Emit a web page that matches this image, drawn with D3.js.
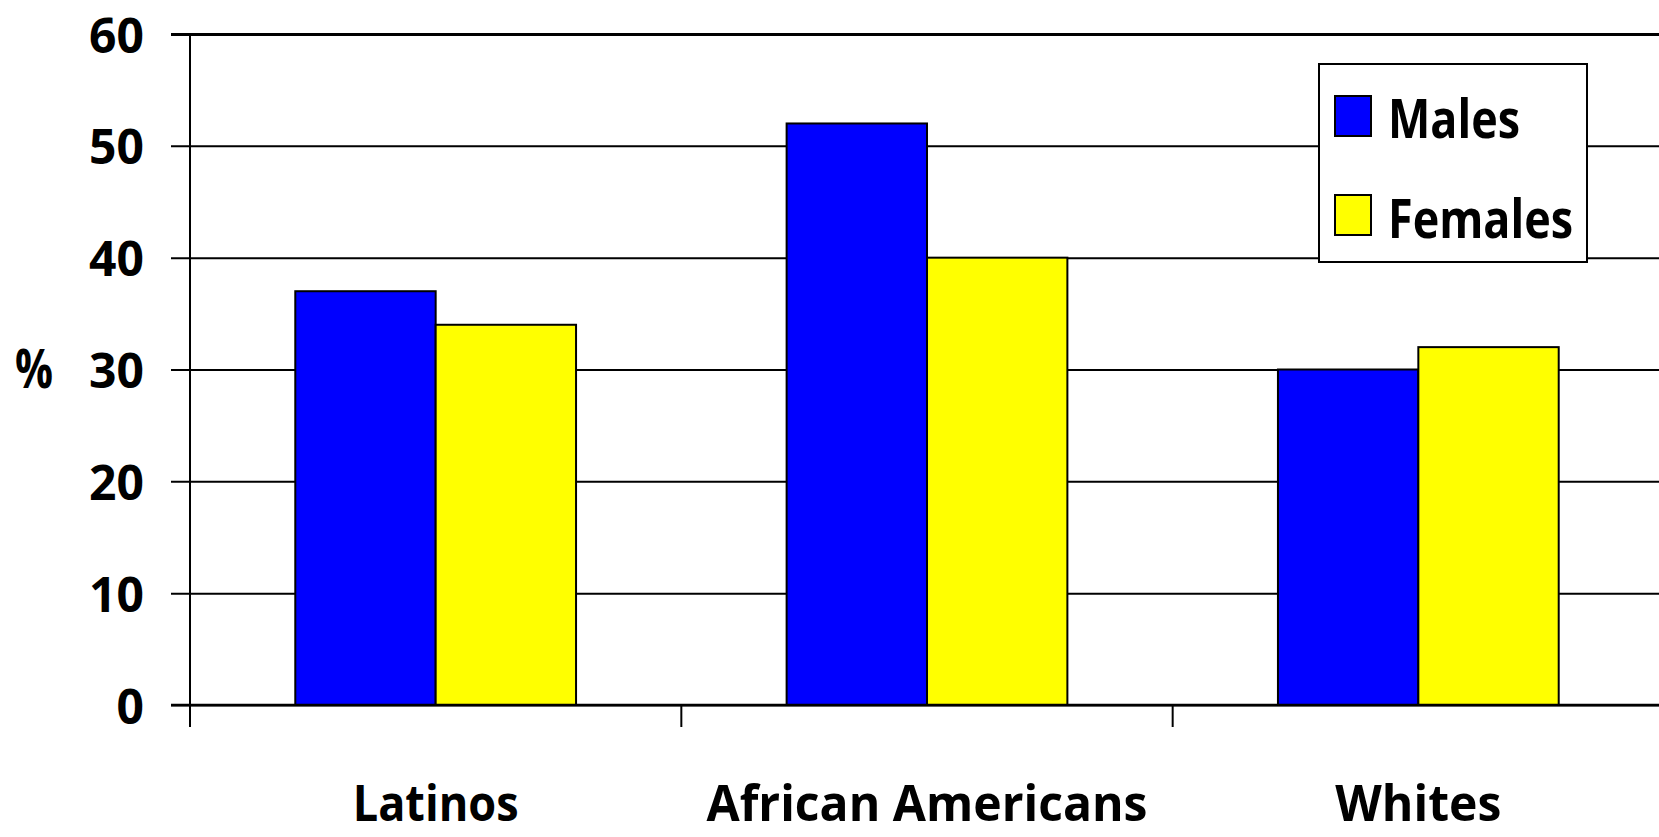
<!DOCTYPE html>
<html><head><meta charset="utf-8">
<script src="https://cdn.jsdelivr.net/npm/d3@7"></script>
<style>
html,body{margin:0;padding:0;background:#fff;}
text{font-family:"Comic Sans MS","Open Sans","DejaVu Sans",sans-serif;font-weight:bold;fill:#000;}
</style></head>
<body>
<svg id="chart" width="1659" height="837"></svg>
<script>
const categories = ["Latinos", "African Americans", "Whites"];
const seriesNames = ["Males", "Females"];
const males = [37, 52, 30];
const females = [34, 40, 32];
const yTicks = [0, 10, 20, 30, 40, 50, 60];
const seriesColors = ["#0000ff", "#ffff00"];
const yLabel = "%";

(function () {
const FONT = '"Comic Sans MS","Open Sans","DejaVu Sans",sans-serif';
const svg = d3.select("#chart");
const pLeft = 190, pRight = 1664, pTop = 34, pBottom = 705;
const data = categories.map((c, i) => ({cat: c, values: [males[i], females[i]]}));

const x0 = d3.scaleBand().domain(categories).range([pLeft, pRight]).paddingInner(0).paddingOuter(0);
const x1 = d3.scaleBand().domain(seriesNames).range([0, x0.bandwidth()]).paddingInner(0).paddingOuter(0.75);
const y = d3.scaleLinear().domain([0, 60]).range([pBottom, pTop]);

// gridlines + y tick labels
const yAxis = d3.axisLeft(y).tickValues(yTicks).tickSizeInner(-(1700 - 171)).tickSizeOuter(0).tickPadding(27);
const gy = svg.append("g").attr("transform", "translate(171,0)").call(yAxis);
gy.select(".domain").remove();
gy.selectAll(".tick line").attr("stroke", "#000").attr("stroke-width", d => d === 60 ? 3 : 2);
gy.selectAll(".tick text").attr("font-size", 48).attr("dy", 18).attr("fill", "#000")
  .style("font-family", FONT).style("font-weight", "bold");

// bars
const groups = svg.append("g").selectAll("g").data(data).join("g")
  .attr("transform", d => `translate(${x0(d.cat)},0)`);
groups.selectAll("rect").data(d => d.values.map((v, j) => ({s: seriesNames[j], v, j}))).join("rect")
  .attr("x", d => x1(d.s)).attr("width", x1.bandwidth())
  .attr("y", d => y(d.v)).attr("height", d => y(0) - y(d.v))
  .attr("fill", d => seriesColors[d.j]).attr("stroke", "#000").attr("stroke-width", 2);

// y axis line
svg.append("line").attr("x1", pLeft).attr("x2", pLeft).attr("y1", y(60)).attr("y2", pBottom + 22)
  .attr("stroke", "#000").attr("stroke-width", 2);
// baseline
svg.append("line").attr("x1", 171).attr("x2", 1700).attr("y1", y(0)).attr("y2", y(0))
  .attr("stroke", "#000").attr("stroke-width", 2.5);

// category boundary ticks
svg.append("g").selectAll("line").data(categories.slice(1)).join("line")
  .attr("x1", d => x0(d)).attr("x2", d => x0(d)).attr("y1", pBottom).attr("y2", pBottom + 22)
  .attr("stroke", "#000").attr("stroke-width", 2);

// category labels
const catWidths = {"Latinos": 166, "African Americans": 441, "Whites": 166};
const xAxis = d3.axisBottom(x0).tickSize(0).tickPadding(0);
const gx = svg.append("g").call(xAxis);
gx.select(".domain").remove();
gx.selectAll(".tick text").attr("y", 821).attr("dy", 0).attr("font-size", 50).attr("fill", "#000")
  .style("font-family", FONT).style("font-weight", "bold")
  .attr("textLength", d => catWidths[d]).attr("lengthAdjust", "spacingAndGlyphs");

// y label
svg.append("text").attr("x", 34).attr("y", 369).attr("dy", "0.35em").attr("text-anchor", "middle")
  .attr("font-size", 54).attr("textLength", 38).attr("lengthAdjust", "spacingAndGlyphs").text(yLabel);

// legend
const lg = svg.append("g");
lg.append("rect").attr("x", 1319).attr("y", 64).attr("width", 268).attr("height", 198)
  .attr("fill", "#fff").attr("stroke", "#000").attr("stroke-width", 2);
const legWidths = [132, 185];
seriesNames.forEach((s, j) => {
  lg.append("rect").attr("x", 1335).attr("y", 96 + j * 99).attr("width", 36).attr("height", 40)
    .attr("fill", seriesColors[j]).attr("stroke", "#000").attr("stroke-width", 2);
  lg.append("text").attr("x", 1388).attr("y", 138 + j * 100).attr("font-size", 54)
    .attr("textLength", legWidths[j]).attr("lengthAdjust", "spacingAndGlyphs").text(s);
});
})();
</script>
</body></html>
